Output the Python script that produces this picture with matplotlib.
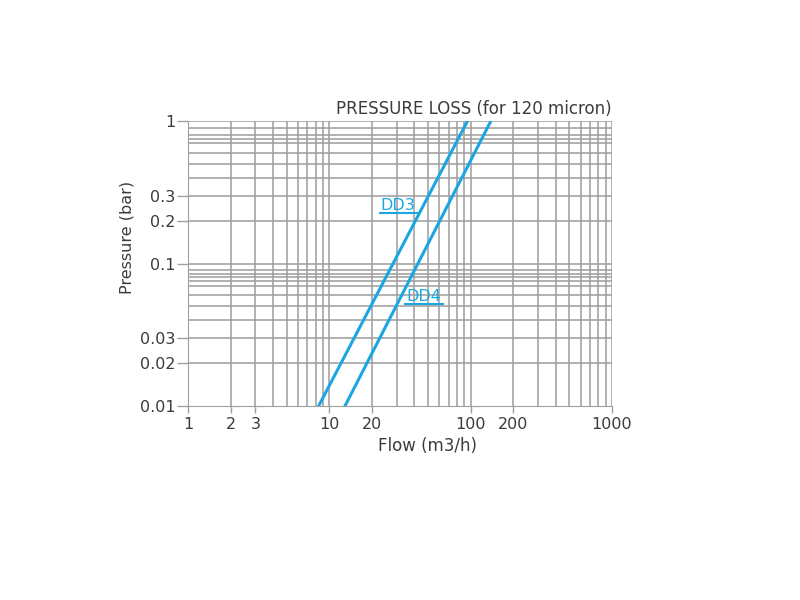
import numpy as np
import matplotlib
matplotlib.use("Agg")
import matplotlib.pyplot as plt

# data (flow m3/h vs pressure bar)
dd3_flow = [8.4, 95.0]
dd3_pressure = [0.01, 1.0]
dd4_flow = [12.9, 139.0]
dd4_pressure = [0.01, 1.0]

series_names = ["DD3", "DD4"]
label_pos = [(23.0, 0.255), (34.8, 0.059)]

x_ticks = [1, 2, 3, 10, 20, 100, 200, 1000]
x_ticklabels = ["1", "2", "3", "10", "20", "100", "200", "1000"]
y_ticks = [0.01, 0.02, 0.03, 0.1, 0.2, 0.3, 1]
y_ticklabels = ["0.01", "0.02", "0.03", "0.1", "0.2", "0.3", "1"]

x_grid = [m * 10 ** d for d in range(0, 3) for m in range(1, 10)] + [1000]
y_grid = [0.02, 0.03, 0.04, 0.05, 0.06, 0.07, 0.075, 0.08, 0.085, 0.09,
          0.1, 0.2, 0.3, 0.4, 0.5, 0.6, 0.7, 0.75, 0.8, 0.9, 1.0]

text_col = "#3c3c3c"
grid_col = "#a0a0a0"
blue = "#1aa7e1"

plt.rcParams['font.family'] = ['DejaVu Sans']

fig = plt.figure(figsize=(8, 6), dpi=100)
ax = fig.add_axes([0.235, 0.3233, 0.53, 0.475])
ax.set_xscale("log")
ax.set_yscale("log")
ax.set_xlim(1, 1000)
ax.set_ylim(0.01, 1)

for x in x_grid:
    ax.axvline(x, color=grid_col, lw=1.15, zorder=1)
for y in y_grid:
    ax.axhline(y, color=grid_col, lw=1.15, zorder=1)

ax.plot(dd3_flow, dd3_pressure, color=blue, lw=2.2, zorder=3)
ax.plot(dd4_flow, dd4_pressure, color=blue, lw=2.2, zorder=3)

for name, (lx, ly) in zip(series_names, label_pos):
    ax.text(lx, ly, name, color=blue, fontsize=11.5, ha="left", va="center",
            zorder=4)
    ax.plot([lx * 0.985, lx * 1.83], [ly * 0.885, ly * 0.885], color=blue,
            lw=1.5, zorder=4)

for s in ["top", "right"]:
    ax.spines[s].set_visible(False)
ax.spines["left"].set_color(grid_col)
ax.spines["bottom"].set_color(grid_col)

ax.set_xticks(x_ticks)
ax.set_xticklabels(x_ticklabels)
ax.set_yticks(y_ticks)
ax.set_yticklabels(y_ticklabels)
ax.minorticks_off()
ax.tick_params(axis="x", length=5, width=1, color=grid_col, colors=text_col,
               labelsize=11.5, pad=3)
ax.tick_params(axis="y", length=8, width=1, color=grid_col, colors=text_col,
               labelsize=11.5, pad=1)
for t in ax.get_xticklabels() + ax.get_yticklabels():
    t.set_color(text_col)

ax.set_xlabel("Flow (m3/h)", fontsize=12, color=text_col)
ax.set_ylabel("Pressure (bar)", fontsize=11.5, color=text_col)
ax.xaxis.set_label_coords(0.566, -0.11)
ax.yaxis.set_label_coords(-0.125, 0.593)
ax.text(1.0, 1.012, "PRESSURE LOSS (for 120 micron)", transform=ax.transAxes,
        ha="right", va="bottom", fontsize=12, color=text_col)

fig.savefig("out.png", dpi=100)
